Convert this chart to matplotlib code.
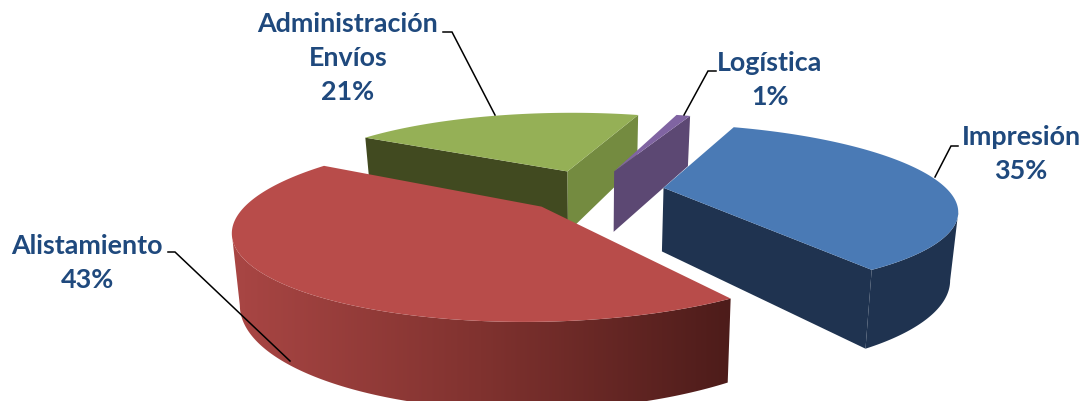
import matplotlib

matplotlib.use("Agg")
import matplotlib.pyplot as plt
import numpy as np
from matplotlib.colors import LinearSegmentedColormap
from matplotlib.patches import Polygon

# slices, clockwise from the first angle
categories = ["Impresión", "Alistamiento", "Administración\nEnvíos", "Logística"]
shares = [35, 43, 21, 1]

FIRST_ANGLE = 21.0
EXPLODE = 0.262

# projection of the pie plane onto the canvas
CX, CY = 592.0, 190.0
SCALE_X, SCALE_Y = 284.0, 79.9
TILT = 0.232
DEPTH = 64.0
FLOOR_SHRINK = 0.978

# small per-slice shift on the canvas, on top of the explode
NUDGES = [(-2, 1), (4, 2), (0, 1), (-1, 1)]

TOP_COLORS = ["#4a7ab5", "#b84c4a", "#95b056", "#8064a2"]
SIDE_COLORS = ["#1f3350", "#a94644", "#414a20", "#5c4873"]
END_COLORS = ["#1f3350", "#a94644", "#748b40", "#5c4873"]

# red rim fades to dark along x
RED_RIM = LinearSegmentedColormap.from_list(
    "red_rim", [(0.0, "#a94644"), (0.5, "#80322f"), (1.0, "#4d1c1a")]
)

LABEL_COLOR = "#1f497d"
LABEL_XY = [(1021, 154), (87, 263), (348, 58), (770, 80)]
LEADERS = [
    [(958, 147), (951, 147), (935, 178)],
    [(168, 253), (175, 253), (290, 362)],
    [(443, 33), (452, 33), (495, 116)],
    [(716, 72), (708, 72), (684, 116)],
]


def project(x, y, nudge, floor=False):
    w = 1 + TILT * y
    sx = SCALE_X * x / w
    sy = CY - SCALE_Y * y / w
    if floor:
        return CX + sx * FLOOR_SHRINK + nudge[0], sy + DEPTH / w + nudge[1]
    return CX + sx + nudge[0], sy + nudge[1]


def draw_rim(ax, theta, top_x, top_y, low_x, low_y, idx):
    # only the near part of the arc, between its left and right extremes
    near = np.cos(theta) < 0.2
    if near.sum() < 2:
        return
    tx, ty, lx, ly = top_x[near], top_y[near], low_x[near], low_y[near]
    lo, hi = np.argmax(tx), np.argmin(tx)
    tx, ty, lx, ly = tx[lo:hi + 1], ty[lo:hi + 1], lx[lo:hi + 1], ly[lo:hi + 1]

    rim = list(zip(tx, ty)) + list(zip(lx[::-1], ly[::-1]))
    if idx == 1:
        # gradient clipped to the rim outline
        ramp = np.linspace(0, 1, 256).reshape(1, -1)
        img = ax.imshow(
            ramp, cmap=RED_RIM, aspect="auto", interpolation="bilinear",
            extent=(tx.min(), tx.max(), ly.max(), ty.min()),
        )
        img.set_clip_path(Polygon(rim, transform=ax.transData))
    else:
        ax.add_patch(Polygon(rim, facecolor=SIDE_COLORS[idx], edgecolor="none"))


def draw_slice(ax, start, end, idx):
    nudge = NUDGES[idx]
    mid = np.radians((start + end) / 2)
    ox, oy = EXPLODE * np.sin(mid), EXPLODE * np.cos(mid)
    theta = np.radians(np.linspace(start, end, max(int(end - start) * 2, 6)))
    x = ox + np.sin(theta)
    y = oy + np.cos(theta)

    top_x, top_y = project(x, y, nudge)
    low_x, low_y = project(x, y, nudge, floor=True)
    apex_top = project(ox, oy, nudge)
    apex_low = project(ox, oy, nudge, floor=True)

    draw_rim(ax, theta, top_x, top_y, low_x, low_y, idx)

    # radial cut faces that look towards the viewer
    if np.sin(theta[0]) < 0:
        face = [apex_top, (top_x[0], top_y[0]), (low_x[0], low_y[0]), apex_low]
        ax.add_patch(Polygon(face, facecolor=SIDE_COLORS[idx], edgecolor="none"))
    if np.sin(theta[-1]) > 0:
        face = [apex_top, (top_x[-1], top_y[-1]), (low_x[-1], low_y[-1]), apex_low]
        ax.add_patch(Polygon(face, facecolor=END_COLORS[idx], edgecolor="none"))

    top = [apex_top] + list(zip(top_x, top_y))
    ax.add_patch(Polygon(top, facecolor=TOP_COLORS[idx], edgecolor="none"))


def main():
    fig = plt.figure(figsize=(10.92, 4.02), dpi=100)
    ax = fig.add_axes([0, 0, 1, 1])
    ax.axis("off")

    spans = np.array(shares) / sum(shares) * 360
    starts = FIRST_ANGLE + np.concatenate(([0], np.cumsum(spans)[:-1]))

    # back slices first
    for idx in [2, 3, 0, 1]:
        draw_slice(ax, starts[idx], starts[idx] + spans[idx], idx)

    for name, share, xy, leader in zip(categories, shares, LABEL_XY, LEADERS):
        ax.plot(*zip(*leader), color="black", lw=1.1, solid_joinstyle="miter")
        ax.text(
            xy[0], xy[1], f"{name}\n{share}%",
            family="Lato", weight="bold", fontsize=19.4, color=LABEL_COLOR,
            ha="center", va="center", linespacing=1.5,
        )

    ax.set_xlim(0, 1092)
    ax.set_ylim(402, 0)
    fig.savefig("out.png", dpi=100)


if __name__ == "__main__":
    main()
